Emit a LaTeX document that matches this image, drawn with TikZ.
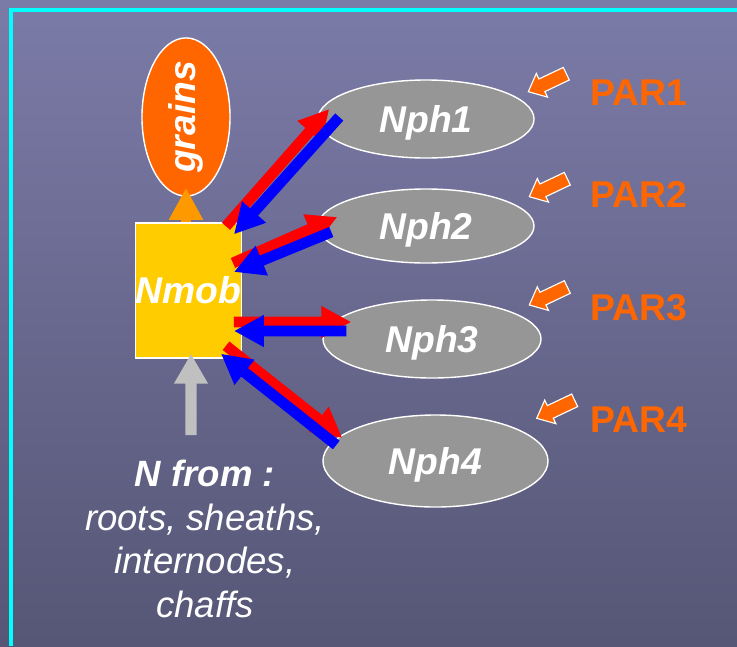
\documentclass[tikz,border=0pt]{standalone}
\usepackage{fontspec}
\setmainfont{Liberation Sans}
\usetikzlibrary{arrows.meta,calc,shapes.geometric}

\definecolor{bgtop}{RGB}{123,123,168}
\definecolor{bgbot}{RGB}{86,86,118}
\definecolor{framecol}{RGB}{0,255,255}
\definecolor{nmobcol}{RGB}{255,204,0}
\definecolor{graincol}{RGB}{255,102,0}
\definecolor{upcol}{RGB}{255,153,0}
\definecolor{phcol}{RGB}{150,150,150}
\definecolor{srccol}{RGB}{192,192,192}
\definecolor{tocol}{RGB}{255,0,0}
\definecolor{fromcol}{RGB}{0,0,255}

\tikzset{
  boldtxt/.style={font=\fontsize{26.5}{30}\selectfont\bfseries\itshape, text=white},
  organ/.style={ellipse, draw=white, line width=1pt, fill=phcol, inner sep=0pt, boldtxt, text height=19pt, text depth=0pt},
  toleaf/.style={draw=tocol, line width=0.27cm, -{Triangle[width=0.75cm,length=0.75cm]}},
  fromleaf/.style={draw=fromcol, line width=0.27cm, -{Triangle[width=0.75cm,length=0.75cm]}},
  partxt/.style={font=\fontsize{26.5}{30}\selectfont\bfseries, text=graincol, anchor=base west, inner sep=0pt},
  pararrow/.pic={\filldraw[fill=graincol, draw=white, line width=0.8pt] (0,0) -- (19.2,5.4) -- (16.6,-0.1) -- (41,-11.7) -- (35,-24.3) -- (10.6,-12.7) -- (8.0,-18.2) -- cycle;}
}

\begin{document}
\begin{tikzpicture}[x=0.025cm, y=-0.025cm]
	\useasboundingbox (0,0) rectangle (737,646);
	\clip (0,0) rectangle (737,646);
	\shade[top color=bgtop, bottom color=bgbot] (0,0) rectangle (737,646);
	\draw[framecol, line width=0.1cm] (11.3,646) -- (11.3,10) -- (737,10);
	% sink and pool
	\node[ellipse, draw=white, line width=1pt, fill=graincol, rotate=90, minimum width=3.75cm, minimum height=2.2cm, inner sep=0pt, boldtxt] (grains) at (186,117) {grains};
	\node[draw=white, line width=1pt, fill=nmobcol, minimum width=2.625cm, minimum height=3.375cm, inner sep=0pt, boldtxt] (nmob) at (188.5,290.5) {Nmob};
	% leaf layers
	\node[organ, minimum width=5.4cm, minimum height=1.95cm] (nph1) at (426,119) {Nph1};
	\node[organ, minimum width=5.4cm, minimum height=1.85cm] (nph2) at (426,226) {Nph2};
	\node[organ, minimum width=5.45cm, minimum height=1.95cm] (nph3) at (432,339) {Nph3};
	\node[organ, minimum width=5.625cm, minimum height=2.3cm] (nph4) at (435.5,461) {Nph4};
	\node[partxt] (par1) at (590,105) {PAR1};
	\node[partxt] (par2) at (590,207) {PAR2};
	\node[partxt] (par3) at (590,320) {PAR3};
	\node[partxt] (par4) at (590,432) {PAR4};
	\pic at (528.3,91.7) {pararrow};
	\pic at (529.3,196.7) {pararrow};
	\pic at (529.3,305) {pararrow};
	\pic at (536.7,418.3) {pararrow};
	% fluxes
	\draw[upcol, line width=0.25cm, -{Triangle[width=0.8cm,length=0.8cm]}] (grains.west |- nmob.north) -- ($(grains.west)+(0,-9)$);
	\coordinate (ntail) at (191,435);
	\draw[srccol, line width=0.28cm, -{Triangle[width=0.8cm,length=0.75cm]}] (ntail) -- ($(nmob.south)+(2.5,-5)$);
	\draw[toleaf] ($(nmob.north east)+(-16,4)$) -- ($(nph1.west)+(12,-10)$);
	\draw[fromleaf] ($(nph1.west)+(22,-2)$) -- ($(nmob.north east)+(-8,12)$);
	\draw[toleaf] ($(nmob.east)+(-9,-27.5)$) -- ($(nph2.west)+(20,-9)$);
	\draw[fromleaf] ($(nph2.west)+(14,6)$) -- ($(nmob.east)+(-8,-18.5)$);
	\draw[toleaf] ($(nmob.east)+(-8,31.5)$) -- ($(nph3.west)+(29,-17)$);
	\draw[fromleaf] ($(nph3.west)+(24,-8)$) -- ($(nmob.east)+(-8,40.5)$);
	\draw[toleaf] ($(nmob.south east)+(-16,-13)$) -- ($(nph4.west)+(20,-23)$);
	\draw[fromleaf] ($(nph4.west)+(14,-16)$) -- ($(nmob.south east)+(-21,-5)$);
	\node[align=center, font=\fontsize{26}{31}\selectfont\itshape, text=white, inner sep=0pt, anchor=north] (nfrom) at (205,460) {\textbf{N from :}\\roots, sheaths,\\internodes,\\chaffs};
\end{tikzpicture}
\end{document}
